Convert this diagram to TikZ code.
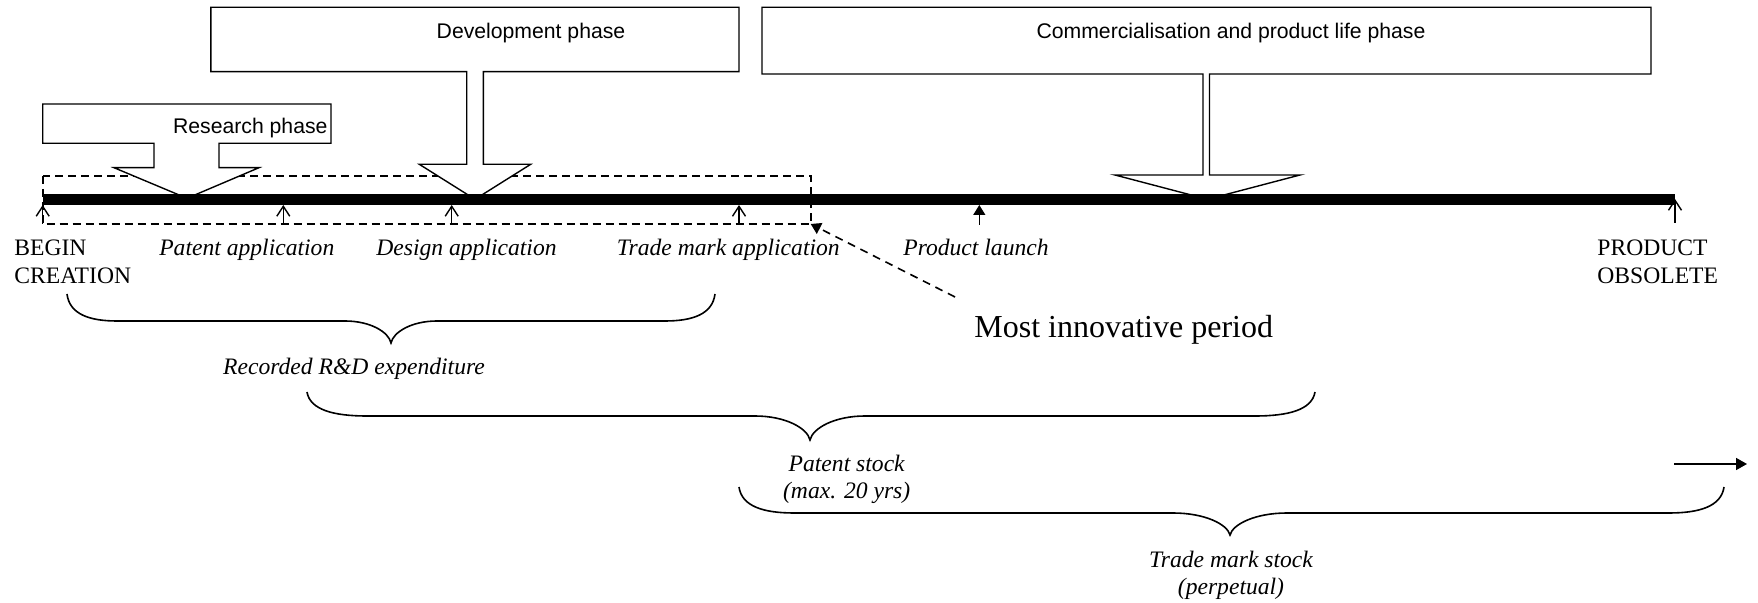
\documentclass[tikz,border=0pt]{standalone}
\usepackage{fontspec}
\setmainfont{Liberation Serif}
\newfontfamily\arialfont{Liberation Sans}
\usetikzlibrary{arrows.meta}
\newcommand{\wordbrace}[8]{%
  \draw[bracestyle] (#1,#3) .. controls ({#1+0.05*#7},{#3+0.75*(#4-#3)}) and ({#1+0.45*#7},#4) .. ({#1+#7},#4)
    -- ({#5-#8},#4) .. controls ({#5-0.45*#8},#4) and ({#5-0.05*#8},{#4+0.5*(#6-#4)}) .. (#5,#6)
    .. controls ({#5+0.05*#8},{#4+0.5*(#6-#4)}) and ({#5+0.45*#8},#4) .. ({#5+#8},#4)
    -- ({#2-#7},#4) .. controls ({#2-0.45*#7},#4) and ({#2-0.05*#7},{#3+0.75*(#4-#3)}) .. (#2,#3);}
\begin{document}
\begin{tikzpicture}[x=0.5pt,y=-0.5pt,
  callout/.style={draw, line width=0.7pt, fill=white, line join=miter},
  dashbox/.style={draw, line width=0.9pt, dash pattern=on 4pt off 2.5pt},
  tickarrow/.style={line width=0.7pt, -{Straight Barb[length=5pt,width=6.5pt,line width=0.7pt]}},
  filltick/.style={line width=0.7pt, -{Triangle[length=5pt,width=6pt]}},
  lbl/.style={font=\fontsize{11.8}{13.7}\selectfont\itshape, inner sep=0pt},
  caps/.style={font=\fontsize{11.8}{14}\selectfont, inner sep=0pt, align=left},
  phase/.style={font=\arialfont\fontsize{10.6}{12.7}\selectfont, inner sep=0pt},
  bracestyle/.style={line width=0.8pt},
  leader/.style={line width=0.8pt, dash pattern=on 4pt off 3pt, -{Triangle[length=5pt,width=6pt]}}
]
\useasboundingbox (0,0) rectangle (1758,603);

% dashed "most innovative period" box
\coordinate (drNW) at (42.7,176);
\coordinate (drSE) at (810.7,224);
\draw[dashbox] (drNW) rectangle (drSE);

% phase callouts
\draw[callout] (42.7,104) -- (331,104) -- (331,143.3) -- (219,143.3) -- (219,167.7) -- (259,167.7)
  -- (187,198.3) -- (114,167.7) -- (154,167.7) -- (154,143.3) -- (42.7,143.3) -- cycle;
\node[phase, anchor=base west] (research) at (172.7,133.3) {Research phase};

\draw[callout] (210.8,7.3) -- (739,7.3) -- (739,71.7) -- (483.3,71.7) -- (483.3,164.3) -- (530.7,164.3)
  -- (475,199.3) -- (419.3,164.3) -- (466.7,164.3) -- (466.7,71.7) -- (210.8,71.7) -- cycle;
\node[phase, anchor=base] (development) at (531,38.5) {Development phase};

\draw[callout] (762,7.3) -- (1651,7.3) -- (1651,74) -- (1209.5,74) -- (1209.5,175) -- (1300,175)
  -- (1207.5,199.3) -- (1115,175) -- (1203,175) -- (1203,74) -- (762,74) -- cycle;
\node[phase, anchor=base] (commercial) at (1231,38.5) {Commercialisation and product life phase};

% time bar
\coordinate (barL) at (42.7,199.5);
\coordinate (barR) at (1675,199.5);
\draw[line width=5.5pt] (barL) -- (barR);

% tick arrows
\coordinate (b1) at (42.7,224);   \coordinate (e1) at (42.7,205);
\coordinate (b2) at (283.3,224);  \coordinate (e2) at (283.3,205);
\coordinate (b3) at (451.7,224);  \coordinate (e3) at (451.7,205);
\coordinate (b4) at (739,224);    \coordinate (e4) at (739,205);
\coordinate (b5) at (979.3,225);  \coordinate (e5) at (979.3,205);
\coordinate (b6) at (1675,223);   \coordinate (e6) at (1675,199);
\draw[tickarrow] (b1) -- (e1);
\draw[tickarrow] (b2) -- (e2);
\draw[tickarrow] (b3) -- (e3);
\draw[tickarrow] (b4) -- (e4);
\draw[filltick] (b5) -- (e5);
\draw[tickarrow] (b6) -- (e6);

% labels under the bar (multi-line nodes: base = last line)
\node[caps, anchor=base west] (begin) at (14,284) {BEGIN\\CREATION};
\node[lbl, anchor=base] (patapp) at (246.8,256) {Patent application};
\node[lbl, anchor=base] (desapp) at (466.5,256) {Design application};
\node[lbl, anchor=base] (tmapp) at (728.3,256) {Trade mark application};
\node[lbl, anchor=base] (launch) at (976,256) {Product launch};
\node[caps, anchor=base west] (obsolete) at (1597,283.5) {PRODUCT\\OBSOLETE};

% most innovative period
\node[font=\fontsize{16}{19}\selectfont, inner sep=0pt, anchor=base west] (innov) at (974,337.5) {Most innovative period};
\coordinate (leadS) at (955,297);
\draw[leader] (leadS) -- (drSE);

% braces
\wordbrace{67}{715}{294}{321}{391}{343}{50}{46}
\node[lbl, anchor=base] (rd) at (354,375) {Recorded R\&D expenditure};

\wordbrace{307}{1315}{392}{416}{810}{440}{60}{55}
\node[lbl, anchor=base, align=center] (patstock) at (846.7,499) {Patent stock\\(max. 20 yrs)};

\wordbrace{739}{1724}{487}{513}{1230}{535}{55}{57}
\node[lbl, anchor=base, align=center] (tmstock) at (1231,595) {Trade mark stock\\(perpetual)};

% continuation arrow
\coordinate (ra1) at (1674,464);
\coordinate (ra2) at (1747,464);
\draw[line width=0.8pt, -{Triangle[length=5.5pt,width=6pt]}] (ra1) -- (ra2);
\end{tikzpicture}
\end{document}
